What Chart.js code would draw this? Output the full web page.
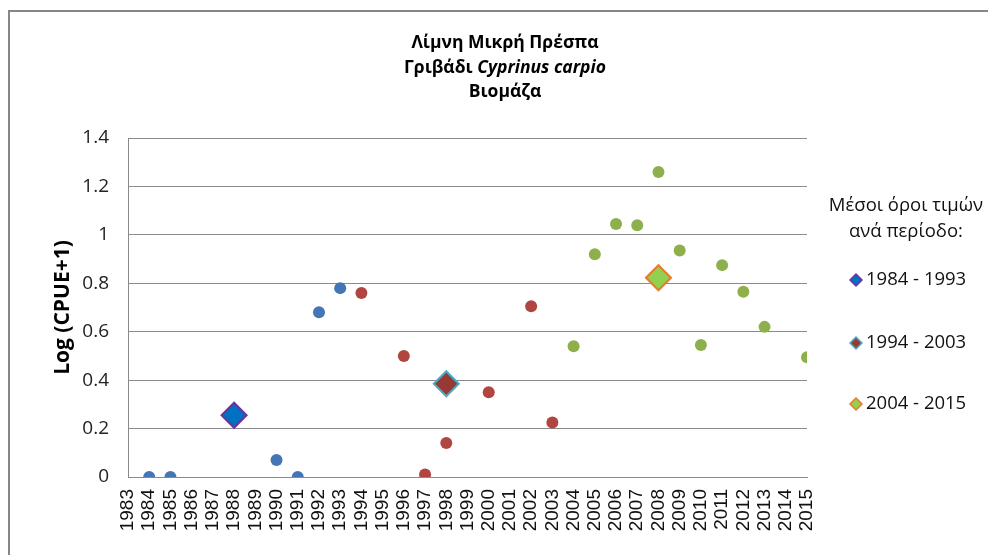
<!DOCTYPE html>
<html>
<head>
<meta charset="utf-8">
<script src="https://cdn.jsdelivr.net/npm/chart.js@4/dist/chart.umd.min.js"></script>
<style>
  html, body { margin: 0; padding: 0; background: #fff; }
  #wrap { width: 988px; height: 555px; position: relative; }
</style>
</head>
<body>
<div id="wrap"><canvas id="c" width="988" height="555"></canvas></div>
<script>
// ---- Data ----
const titleLine1 = "Λίμνη Μικρή Πρέσπα";
const titleLine2a = "Γριβάδι ";
const titleLine2b = "Cyprinus carpio";
const titleLine3 = "Βιομάζα";
const yAxisTitle = "Log (CPUE+1)";
const legendTitle = ["Μέσοι όροι τιμών", "ανά περίοδο:"];

const years1 = [1984, 1985, 1990, 1991, 1992, 1993];
const values1 = [0, 0, 0.07, 0, 0.68, 0.78];

const years2 = [1994, 1996, 1997, 1998, 2000, 2002, 2003];
const values2 = [0.76, 0.50, 0.01, 0.14, 0.35, 0.705, 0.225];

const years3 = [2004, 2005, 2006, 2007, 2008, 2009, 2010, 2011, 2012, 2013, 2015];
const values3 = [0.54, 0.92, 1.045, 1.04, 1.26, 0.935, 0.545, 0.875, 0.765, 0.62, 0.495];

const periodLabels = ["1984 - 1993", "1994 - 2003", "2004 - 2015"];
const meanYears = [1988, 1998, 2008];
const meanValues = [0.255, 0.385, 0.823];

const xMin = 1983, xMax = 2015;
const yTicks = [0, 0.2, 0.4, 0.6, 0.8, 1, 1.2, 1.4];

// ---- Styles ----
const circleColors = ["#4475B4", "#B04541", "#8DB04C"];
const meanFill = ["#0070C0", "#963A36", "#92D050"];
const meanBorder = ["#7030A0", "#4BACC6", "#E87A2A"];

const toPts = (xs, ys) => xs.map((x, i) => ({ x: x, y: ys[i] }));

const datasets = [];
periodLabels.forEach((lab, i) => {
  datasets.push({
    label: lab,
    data: [{ x: meanYears[i], y: meanValues[i] }],
    pointStyle: 'rectRot',
    pointRadius: 12.5,
    pointHoverRadius: 12.5,
    backgroundColor: meanFill[i],
    borderColor: meanBorder[i],
    borderWidth: 2,
    order: 0,
    isMean: true
  });
});
[[years1, values1], [years2, values2], [years3, values3]].forEach((d, i) => {
  datasets.push({
    label: "data" + i,
    data: toPts(d[0], d[1]),
    pointStyle: 'circle',
    pointRadius: 6,
    pointHoverRadius: 6,
    backgroundColor: circleColors[i],
    borderColor: circleColors[i],
    borderWidth: 0,
    order: 1
  });
});

const frameAndText = {
  id: 'frameAndText',
  beforeDraw(chart) {
    const ctx = chart.ctx;
    ctx.save();
    ctx.fillStyle = '#fff';
    ctx.fillRect(0, 0, chart.width, chart.height);
    ctx.strokeStyle = '#868686';
    ctx.lineWidth = 2;
    ctx.beginPath();
    ctx.moveTo(9, 555);
    ctx.lineTo(9, 11);
    ctx.lineTo(988, 11);
    ctx.stroke();
    ctx.restore();
  },
  afterDraw(chart) {
    const ctx = chart.ctx;
    ctx.save();
    ctx.fillStyle = '#000';
    ctx.textBaseline = 'middle';
    // Title
    const cx = 505;
    const tf = 'bold 17.5px "Open Sans"';
    const tfi = 'italic bold 17.5px "Open Sans"';
    ctx.textAlign = 'center';
    ctx.font = tf;
    ctx.fillText(titleLine1, cx, 43);
    ctx.fillText(titleLine3, cx, 92);
    ctx.textAlign = 'left';
    const wa = ctx.measureText(titleLine2a).width;
    ctx.font = tfi;
    const wb = ctx.measureText(titleLine2b).width;
    const sx = cx - (wa + wb) / 2;
    ctx.font = tf;
    ctx.fillText(titleLine2a, sx, 68);
    ctx.font = tfi;
    ctx.fillText(titleLine2b, sx + wa, 68);

    // Legend
    ctx.font = '18.5px "Open Sans"';
    ctx.fillStyle = '#111';
    ctx.textAlign = 'center';
    ctx.fillText(legendTitle[0], 906, 206);
    ctx.fillText(legendTitle[1], 906, 232);
    const ly = [280, 343, 404];
    const means = chart.data.datasets.filter(d => d.isMean);
    means.forEach((d, i) => {
      const x = 856, y = ly[i], r = 6;
      ctx.beginPath();
      ctx.moveTo(x - r, y);
      ctx.lineTo(x, y - r);
      ctx.lineTo(x + r, y);
      ctx.lineTo(x, y + r);
      ctx.closePath();
      ctx.fillStyle = d.backgroundColor;
      ctx.fill();
      ctx.lineWidth = 1.5;
      ctx.strokeStyle = d.borderColor;
      ctx.stroke();
      ctx.fillStyle = '#111';
      ctx.textAlign = 'left';
      ctx.fillText(d.label, 866, y);
    });
    ctx.restore();
  }
};

new Chart(document.getElementById('c'), {
  type: 'scatter',
  data: { datasets: datasets },
  options: {
    responsive: false,
    animation: false,
    events: [],
    layout: { padding: { top: 138, right: 181, left: 0, bottom: 0 } },
    plugins: {
      legend: { display: false },
      title: { display: false },
      tooltip: { enabled: false }
    },
    scales: {
      x: {
        type: 'linear',
        min: xMin,
        max: xMax,
        afterBuildTicks(scale) {
          const t = [];
          for (let v = xMin; v <= xMax; v++) t.push({ value: v });
          scale.ticks = t;
        },
        ticks: {
          autoSkip: false,
          minRotation: 90,
          maxRotation: 90,
          padding: 12,
          color: '#111',
          font: { family: '"Liberation Sans"', size: 19 },
          callback: v => String(v)
        },
        grid: { display: false, drawTicks: false },
        border: { display: true, color: '#8a8a8a', width: 1 },
        afterFit(scale) { scale.height = 78; }
      },
      y: {
        min: 0,
        max: 1.4,
        afterBuildTicks(scale) {
          scale.ticks = yTicks.map(v => ({ value: v }));
        },
        ticks: {
          padding: 19,
          color: '#222',
          font: { family: '"Open Sans"', size: 19 },
          callback: v => String(v)
        },
        grid: { color: '#8a8a8a', lineWidth: 1, drawTicks: false },
        border: { display: true, color: '#8a8a8a', width: 1 },
        title: {
          display: true,
          text: yAxisTitle,
          color: '#000',
          font: { family: '"Open Sans"', size: 21, weight: 'bold' },
          padding: { top: 50, bottom: 0 }
        },
        afterFit(scale) { scale.width = 128; }
      }
    }
  },
  plugins: [frameAndText]
});
</script>
</body>
</html>
